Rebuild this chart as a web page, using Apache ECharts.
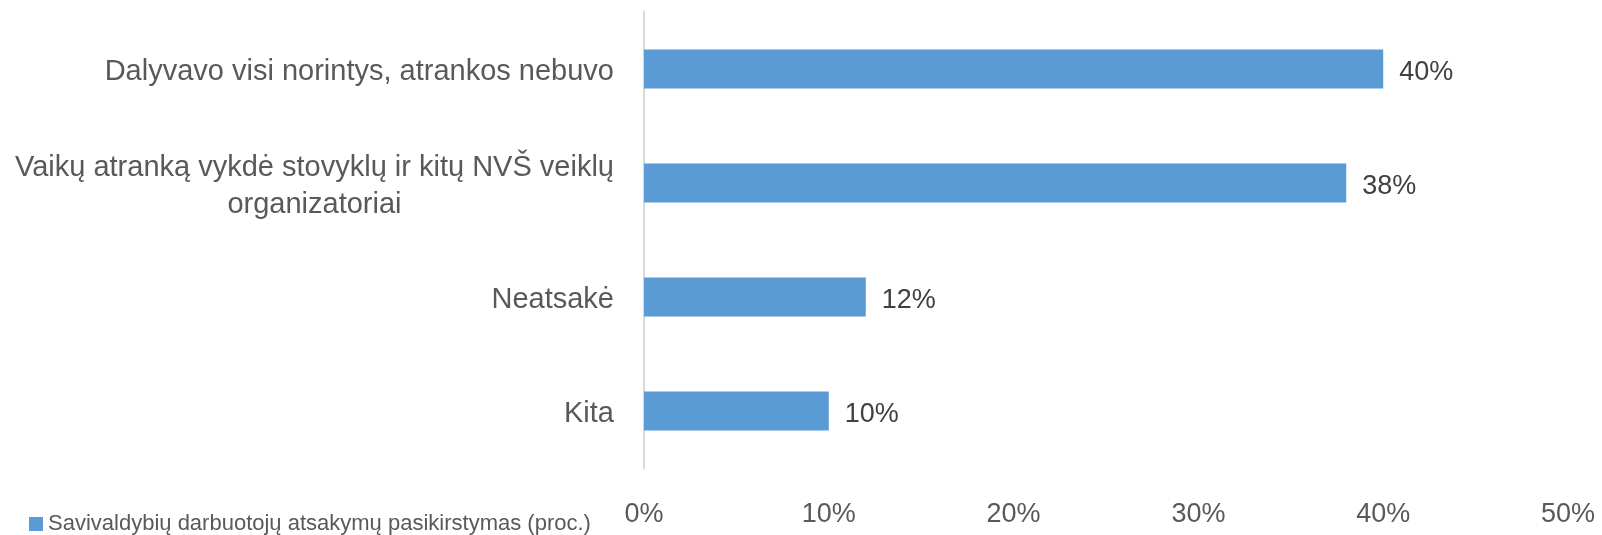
<!DOCTYPE html>
<html>
<head>
<meta charset="utf-8">
<script src="https://cdn.jsdelivr.net/npm/echarts@6/dist/echarts.min.js"></script>
<style>
  html, body { margin: 0; padding: 0; background: #fff; }
  #chart { width: 1602px; height: 535px; }
</style>
</head>
<body>
<div id="chart"></div>
<script>
const FONT = '"Liberation Sans", sans-serif';

// data, top to bottom as in the picture
const categories = [
  "Dalyvavo visi norintys, atrankos nebuvo",
  "Vaikų atranką vykdė stovyklų ir kitų NVŠ veiklų\norganizatoriai",
  "Neatsakė",
  "Kita",
];
const values = [40, 38, 12, 10];
const xTicks = [0, 10, 20, 30, 40, 50];
const seriesName = "Savivaldybių darbuotojų atsakymų pasikirstymas (proc.)";

// width of the longest line, so two-line labels can be centred on it
const ctx = document.createElement("canvas").getContext("2d");
ctx.font = "29px " + FONT;
let maxW = 0;
categories.forEach((c) => c.split("\n").forEach((l) => {
  maxW = Math.max(maxW, ctx.measureText(l).width);
}));

const chart = echarts.init(document.getElementById("chart"));

chart.setOption({
  animation: false,
  grid: { left: 644, right: 34, top: 12, bottom: 67 },
  legend: {
    left: 29,
    bottom: 0,
    padding: [0, 0, 0, 0],
    itemWidth: 14,
    itemHeight: 14,
    icon: "rect",
    itemGap: 4,
    textStyle: { fontFamily: FONT, fontSize: 22, color: "#595959" },
    data: [seriesName],
  },
  xAxis: {
    type: "value",
    min: xTicks[0],
    max: xTicks[xTicks.length - 1],
    interval: 10,
    splitLine: { show: false },
    axisLine: { show: false },
    axisTick: { show: false },
    axisLabel: {
      margin: 33,
      fontFamily: FONT,
      fontSize: 27,
      color: "#595959",
      formatter: (v) => v + "%",
    },
  },
  yAxis: {
    type: "category",
    inverse: true,
    data: categories,
    axisLine: { show: true, lineStyle: { color: "#D9D9D9", width: 2 } },
    axisTick: { show: false },
    axisLabel: {
      margin: 30,
      fontFamily: FONT,
      fontSize: 29,
      color: "#595959",
      lineHeight: 38,
      padding: [6, 0, 0, 0],
      formatter: (v) => {
        const lines = v.split("\n");
        if (lines.length === 1) return v;
        return lines.map((l) => "{c|" + l + "}").join("\n");
      },
      rich: {
        c: {
          width: maxW,
          align: "center",
          fontFamily: FONT,
          fontSize: 29,
          color: "#595959",
          lineHeight: 37,
        },
      },
    },
  },
  series: [
    {
      name: seriesName,
      type: "bar",
      data: values,
      barWidth: 39,
      itemStyle: { color: "#5B9BD5" },
      label: {
        show: true,
        position: "right",
        distance: 16,
        offset: [0, 4],
        fontFamily: FONT,
        fontSize: 27,
        color: "#404040",
        formatter: (p) => p.value + "%",
      },
    },
  ],
});
</script>
</body>
</html>
